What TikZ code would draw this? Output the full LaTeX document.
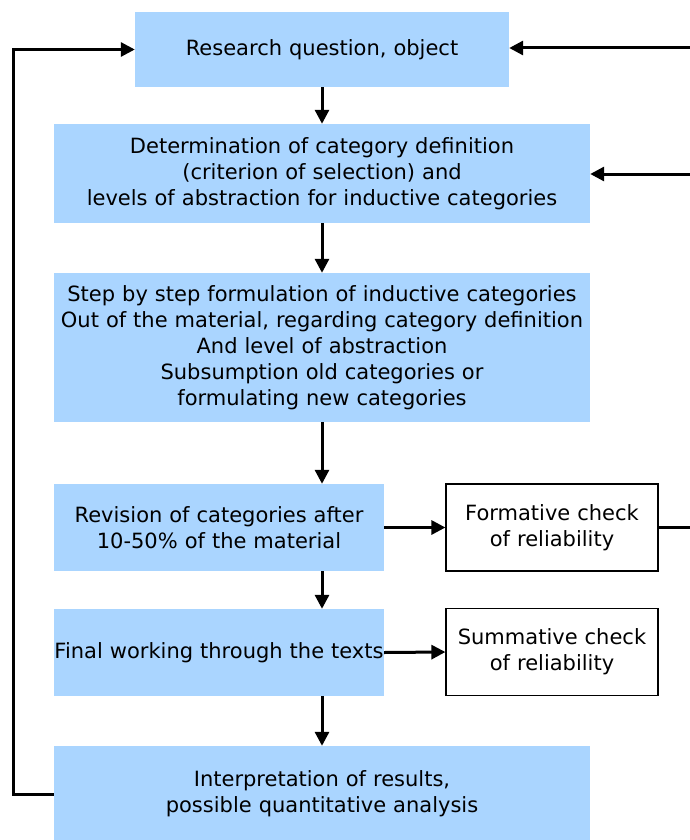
\documentclass[tikz,border=0pt]{standalone}
\usepackage{fontspec}
\setmainfont{DejaVu Sans}
\usetikzlibrary{arrows.meta}
\definecolor{boxblue}{HTML}{AAD5FF}
\begin{document}
\begin{tikzpicture}[x=1pt,y=-1pt,
  font=\fontsize{21}{26}\selectfont,
  bluebox/.style={fill=boxblue,draw=none,inner sep=0pt,align=center},
  checkbox/.style={fill=white,draw=black,line width=1.2pt,inner sep=0pt,align=center,
    minimum width=212pt,minimum height=87pt,text width=212pt},
  arr/.style={line width=3pt,-{Triangle[length=14pt,width=14pt]}},
  ln/.style={line width=3pt}]
\useasboundingbox (0,0) rectangle (690,840);

\node[bluebox,minimum width=374pt,minimum height=75pt,text width=374pt] (b1) at (322,49.5)
  {Research question, object};
\node[bluebox,minimum width=536pt,minimum height=99pt,text width=536pt] (b2) at (322,173.5)
  {Determination of category definition\\(criterion of selection) and\\levels of abstraction for inductive categories};
\node[bluebox,minimum width=536pt,minimum height=149pt,text width=536pt] (b3) at (322,347.5)
  {Step by step formulation of inductive categories\\Out of the material, regarding category definition\\And level of abstraction\\Subsumption old categories or\\formulating new categories};
\node[bluebox,minimum width=330pt,minimum height=87pt,text width=330pt] (b4) at (219,527.5)
  {Revision of categories after\\10-50\% of the material};
\node[checkbox] (b5) at (552,527.5) {Formative check\\of reliability};
\node[bluebox,minimum width=330pt,minimum height=87pt,text width=330pt] (b6) at (219,652.5)
  {Final working through the texts};
\node[checkbox] (b7) at (552,652) {Summative check\\of reliability};
\node[bluebox,minimum width=536pt,minimum height=96pt,text width=536pt] (b8) at (322,794)
  {Interpretation of results,\\possible quantitative analysis};

% loose ends running off to the right
\coordinate (r1) at (690,48);
\coordinate (r2) at (690,174);
\coordinate (r5) at (690,527.5);

% main downward flow
\draw[arr] (b1.south) -- (b2.north);
\draw[arr] (b2.south) -- (b3.north);
\draw[arr] (b3.south) -- (b3.south |- b4.north);
\draw[arr] (b3.south |- b4.south) -- (b3.south |- b6.north);
\draw[arr] (b8.north |- b6.south) -- (b8.north);

% checks
\draw[arr] (b4.east) -- (b5.west);
\draw[arr] (b6.east) -- (b7.west);
\draw[ln] (b5.east) -- (r5);

% feedback loops
\draw[arr] (r1) -- (r1 -| b1.east);
\draw[arr] (r2) -- (r2 -| b2.east);
\draw[arr] (b8.west) -- ++(-40,0) |- (b1.west);
\end{tikzpicture}
\end{document}
